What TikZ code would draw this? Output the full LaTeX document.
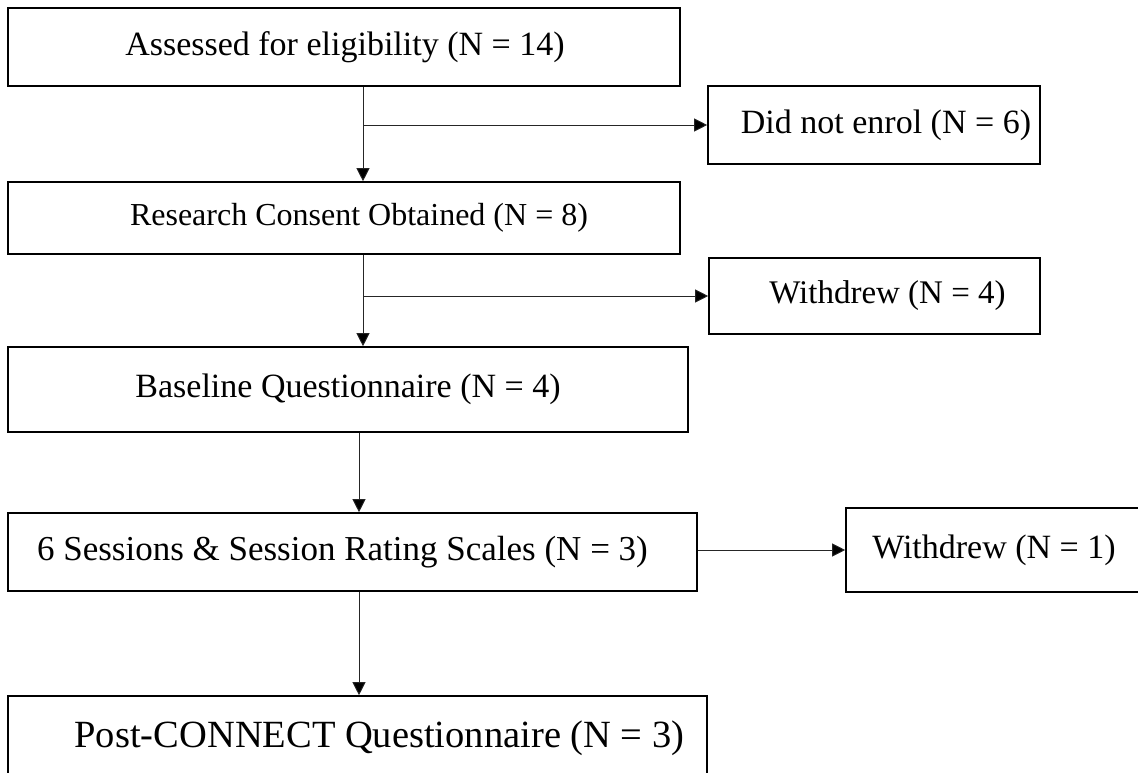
\documentclass[tikz,border=0pt]{standalone}
\usepackage{fontspec}
\setmainfont{Liberation Serif}
\usetikzlibrary{arrows.meta,calc}
% box text: font size (pt), horizontal offset from box centre (pt), text
\newcommand{\boxtext}[3]{\fontsize{#1}{#1}\selectfont\hspace*{#2pt}\hspace*{#2pt}#3}
\begin{document}
\begin{tikzpicture}[x=1pt,y=-1pt,
  box/.style={draw=black,line width=1.6pt,rectangle,inner sep=0pt},
  arr/.style={draw=black!85,line width=0.9pt,-{Triangle[length=13pt,width=13pt,fill=black]}}]
\useasboundingbox (0,0) rectangle (1138,773);
% main column
\node[box,minimum width=672pt,minimum height=78pt] (b1) at (344,47) {\boxtext{34}{1}{Assessed for eligibility (N = 14)}};
\node[box,minimum width=672pt,minimum height=72pt] (b2) at (344,218) {\boxtext{32}{15}{Research Consent Obtained (N = 8)}};
\node[box,minimum width=680pt,minimum height=85pt] (b3) at (348,389.5) {\boxtext{34}{0}{Baseline Questionnaire (N = 4)}};
\node[box,minimum width=689pt,minimum height=78pt] (b4) at (352.5,552) {\boxtext{35}{-10}{6 Sessions \& Session Rating Scales (N = 3)}};
\node[box,minimum width=699pt,minimum height=84pt] (b5) at (357.5,738) {\boxtext{38.5}{22}{Post-CONNECT Questionnaire (N = 3)}};
% exits
\node[box,minimum width=332pt,minimum height=78pt] (d1) at (874,125) {\boxtext{34}{12}{Did not enrol (N = 6)}};
\node[box,minimum width=331pt,minimum height=76pt] (d2) at (874.5,296) {\boxtext{33}{13}{Withdrew (N = 4)}};
\node[box,minimum width=296pt,minimum height=84pt] (d3) at (994,550) {\boxtext{34}{0}{Withdrew (N = 1)}};
% trunk positions
\coordinate (t1) at (363,0);
\coordinate (t2) at (359,0);
% connectors
\draw[arr] (b1.south -| t1) -- (b2.north -| t1);
\draw[arr] (d1.west -| t1) -- (d1.west);
\draw[arr] (b2.south -| t1) -- (b3.north -| t1);
\draw[arr] (d2.west -| t1) -- (d2.west);
\draw[arr] (b3.south -| t2) -- (b4.north -| t2);
\draw[arr] (b4.east |- d3.west) -- (d3.west);
\draw[arr] (b4.south -| t2) -- (b5.north -| t2);
\end{tikzpicture}
\end{document}
